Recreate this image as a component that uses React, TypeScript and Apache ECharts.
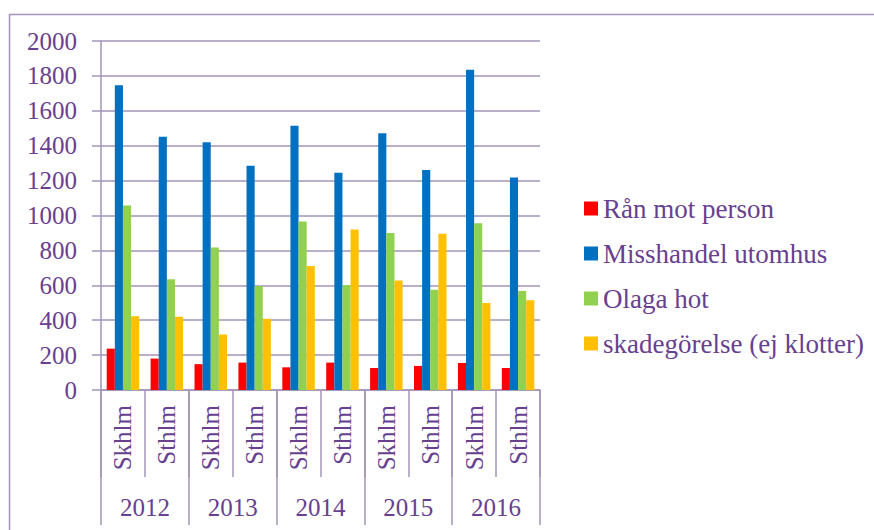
import React, { useEffect, useRef } from "react";
import * as echarts from "echarts";

const subCategories = ["Skhlm", "Sthlm", "Skhlm", "Sthlm", "Skhlm", "Sthlm", "Skhlm", "Sthlm", "Skhlm", "Sthlm"];
const years = ["2012", "2013", "2014", "2015", "2016"];
const seriesNames = ["Rån mot person", "Misshandel utomhus", "Olaga hot", "skadegörelse (ej klotter)"];
const ranMotPerson = [237, 180, 148, 157, 130, 157, 126, 138, 155, 126];
const misshandel = [1747, 1452, 1420, 1285, 1515, 1245, 1471, 1261, 1835, 1218];
const olagaHot = [1057, 634, 816, 596, 966, 602, 900, 575, 956, 567];
const skadegorelse = [423, 420, 318, 408, 711, 920, 628, 895, 498, 515];
const colors = ["#ff0000", "#0070c0", "#92d050", "#ffc000"];

const TEXT = "#68408f";
const LINE = "#a394b9";
const FONT = "Liberation Serif";

export default function App() {
  const ref = useRef<HTMLDivElement>(null);
  useEffect(() => {
    if (!ref.current) return;
    const chart = echarts.init(ref.current, undefined, { renderer: "svg" });
    const data = [ranMotPerson, misshandel, olagaHot, skadegorelse];
    chart.setOption({
      animation: false,
      textStyle: { fontFamily: FONT },
      graphic: [
        {
          type: "rect",
          left: 7,
          top: 12,
          shape: { width: 900, height: 560 },
          style: { fill: "none", stroke: LINE, lineWidth: 1.5 },
          silent: true,
        },
      ],
      grid: { left: 101, top: 41, right: 334, bottom: 140, containLabel: false },
      legend: {
        orient: "vertical",
        left: 579,
        top: 190,
        itemWidth: 14,
        itemHeight: 14,
        itemGap: 18,
        icon: "rect",
        data: seriesNames,
        textStyle: { color: TEXT, fontSize: 27, fontFamily: FONT },
      },
      xAxis: [
        {
          type: "category",
          data: subCategories,
          position: "bottom",
          axisLine: { show: true, lineStyle: { color: LINE, width: 1.5 } },
          axisTick: { show: true, interval: 0, length: 87, lineStyle: { color: LINE, width: 1.5 } },
          axisLabel: {
            interval: 0,
            rotate: 90,
            margin: 15,
            color: TEXT,
            fontSize: 25,
            fontFamily: FONT,
          },
        },
        {
          type: "category",
          data: years,
          position: "bottom",
          axisLine: { show: false },
          axisTick: { show: true, interval: 0, length: 135, lineStyle: { color: LINE, width: 1.5 } },
          axisLabel: {
            interval: 0,
            margin: 105,
            color: TEXT,
            fontSize: 25,
            fontFamily: FONT,
          },
        },
      ],
      yAxis: {
        type: "value",
        min: 0,
        max: 2000,
        interval: 200,
        axisLine: { show: true, lineStyle: { color: LINE, width: 1.5 } },
        axisTick: { show: true, length: 9, lineStyle: { color: LINE, width: 1.5 } },
        splitLine: { show: true, lineStyle: { color: LINE, width: 1.5 } },
        axisLabel: {
          color: TEXT,
          fontSize: 25,
          fontFamily: FONT,
          margin: 24,
          formatter: (v: number) => String(v),
        },
      },
      series: seriesNames.map((name, i) => ({
        name,
        type: "bar",
        xAxisIndex: 0,
        data: data[i],
        barGap: "0%",
        barCategoryGap: "26%",
        itemStyle: { color: colors[i] },
      })),
    });
    return () => chart.dispose();
  }, []);
  return <div ref={ref} style={{ width: 874, height: 530, position: "absolute", left: 0, top: 0, background: "#fff" }} />;
}
